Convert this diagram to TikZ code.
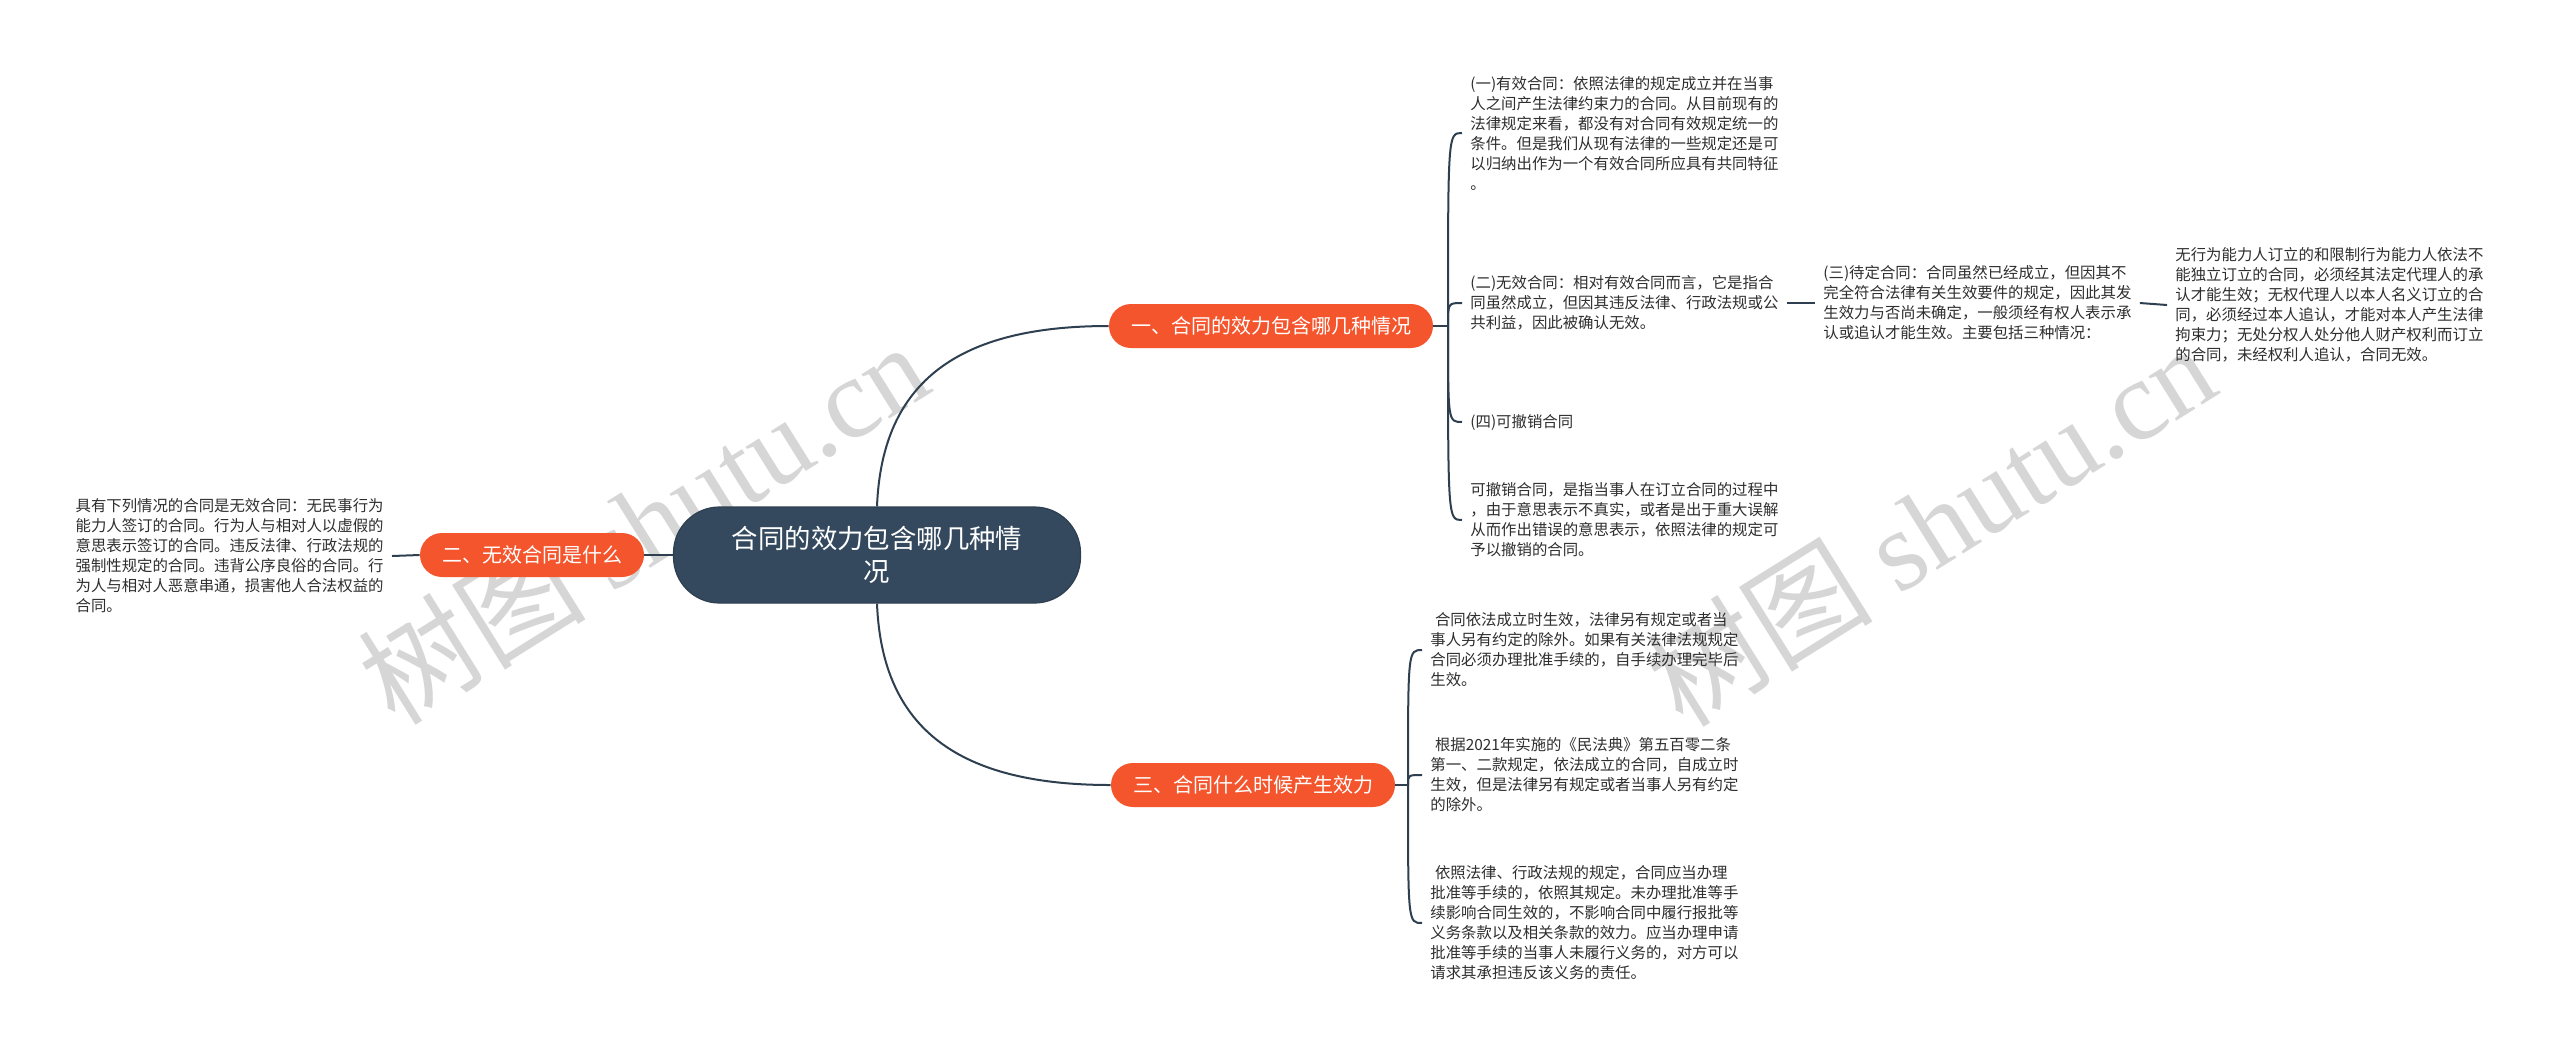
\documentclass[tikz,border=0pt]{standalone}
\usepackage{fontspec}
\setmainfont{Noto Sans CJK SC}
\newfontfamily\wmlatin{Liberation Serif}
\usepackage{tikz}
\usetikzlibrary{calc}
\definecolor{linec}{HTML}{2E3F50}
\definecolor{rootc}{HTML}{34495E}
\definecolor{branchc}{HTML}{F4552D}
\definecolor{wmc}{HTML}{D6D6D6}
\tikzset{
  root/.style={draw=linec, line width=0.6pt, fill=rootc, text=white, rounded corners=23pt, minimum width=203.5pt, minimum height=48pt, align=center, font=\fontsize{13.2pt}{16.5pt}\selectfont},
  branch/.style={fill=branchc, text=white, rounded corners=11pt, minimum height=22pt, inner xsep=11pt, font=\fontsize{10pt}{12pt}\selectfont},
  leaf/.style={anchor=west, align=left, inner xsep=4pt, inner ysep=2pt, text=black!82, font=\fontsize{7.7pt}{10pt}\selectfont},
  link/.style={draw=linec, line width=1pt},
  wm/.style={text=wmc, font=\fontsize{57pt}{57pt}\selectfont}
}
\newcommand{\bracelink}[2]{\draw[link] (#1) .. controls (#1 |- #2.west) .. (#2.west);}

\begin{document}
\begin{tikzpicture}[x=0.5pt,y=-0.5pt]
    \useasboundingbox[fill=white] (0,0) rectangle (2560,1056);

    % watermark
    \node[wm, rotate=32] (w1) at (643,522) {树图 {\wmlatin shutu.cn}};
    \node[wm, rotate=32] (w2) at (1930,524) {树图 {\wmlatin shutu.cn}};

    % centre
    \node[root] (root) at (877,555) {合同的效力包含哪几种情\\况};

    % branches
    \node[branch] (b1) at (1271,326) {一、合同的效力包含哪几种情况};
    \node[branch] (b2) at (532,555) {二、无效合同是什么};
    \node[branch] (b3) at (1253,785) {三、合同什么时候产生效力};

    % branch 1
    \node[leaf] (a1) at (1462,133) {(一)有效合同：依照法律的规定成立并在当事\\人之间产生法律约束力的合同。从目前现有的\\法律规定来看，都没有对合同有效规定统一的\\条件。但是我们从现有法律的一些规定还是可\\以归纳出作为一个有效合同所应具有共同特征\\。};
    \node[leaf] (a2) at (1462,303) {(二)无效合同：相对有效合同而言，它是指合\\同虽然成立，但因其违反法律、行政法规或公\\共利益，因此被确认无效。};
    \node[leaf] (a4) at (1462,422) {(四)可撤销合同};
    \node[leaf] (a5) at (1462,520) {可撤销合同，是指当事人在订立合同的过程中\\，由于意思表示不真实，或者是出于重大误解\\从而作出错误的意思表示，依照法律的规定可\\予以撤销的合同。};
    \node[leaf] (a3) at (1815,303) {(三)待定合同：合同虽然已经成立，但因其不\\完全符合法律有关生效要件的规定，因此其发\\生效力与否尚未确定，一般须经有权人表示承\\认或追认才能生效。主要包括三种情况：};
    \node[leaf] (a6) at (2167,305) {无行为能力人订立的和限制行为能力人依法不\\能独立订立的合同，必须经其法定代理人的承\\认才能生效；无权代理人以本人名义订立的合\\同，必须经过本人追认，才能对本人产生法律\\拘束力；无处分权人处分他人财产权利而订立\\的合同，未经权利人追认，合同无效。};

    % branch 2
    \node[leaf, anchor=east] (c1) at (392,556) {具有下列情况的合同是无效合同：无民事行为\\能力人签订的合同。行为人与相对人以虚假的\\意思表示签订的合同。违反法律、行政法规的\\强制性规定的合同。违背公序良俗的合同。行\\为人与相对人恶意串通，损害他人合法权益的\\合同。};

    % branch 3
    \node[leaf] (d1) at (1422,650) {\hspace*{0.3em}合同依法成立时生效，法律另有规定或者当\\事人另有约定的除外。如果有关法律法规规定\\合同必须办理批准手续的，自手续办理完毕后\\生效。};
    \node[leaf] (d2) at (1422,775) {\hspace*{0.3em}根据2021年实施的《民法典》第五百零二条\\第一、二款规定，依法成立的合同，自成立时\\生效，但是法律另有规定或者当事人另有约定\\的除外。};
    \node[leaf] (d3) at (1422,923) {\hspace*{0.3em}依照法律、行政法规的规定，合同应当办理\\批准等手续的，依照其规定。未办理批准等手\\续影响合同生效的，不影响合同中履行报批等\\义务条款以及相关条款的效力。应当办理申请\\批准等手续的当事人未履行义务的，对方可以\\请求其承担违反该义务的责任。};

    % links
    \draw[link] (root.north) .. controls (882,380) and (960,326) .. (b1.west);
    \draw[link] (root.south) .. controls (882,730) and (960,785) .. (b3.west);
    \draw[link] (root.west) -- (b2.east);
    \draw[link] (b2.west) -- (c1.east);

    \coordinate (j1) at (1448,326);
    \draw[link] (b1.east) -- (j1);
    \bracelink{j1}{a1}
    \bracelink{j1}{a2}
    \bracelink{j1}{a4}
    \bracelink{j1}{a5}
    \draw[link] (a2.east) -- (a3.west);
    \draw[link] (a3.east) -- (a6.west);

    \coordinate (j3) at (1408,785);
    \draw[link] (b3.east) -- (j3);
    \bracelink{j3}{d1}
    \bracelink{j3}{d2}
    \bracelink{j3}{d3}
\end{tikzpicture}
\end{document}
